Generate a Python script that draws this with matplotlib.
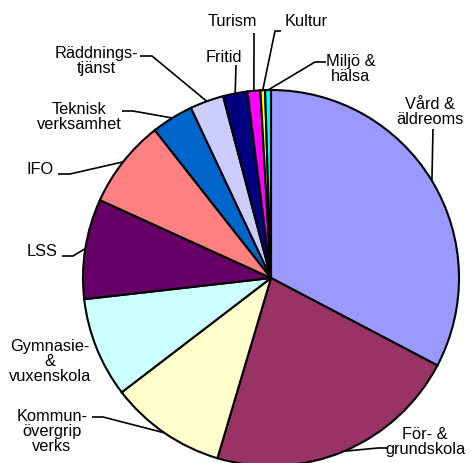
import numpy as np
import matplotlib
matplotlib.use("Agg")
import matplotlib.pyplot as plt

labels = ["Vård &\näldreoms", "För- &\ngrundskola", "Kommun-\növergrip\nverks",
          "Gymnasie-\n&\nvuxenskola", "LSS", "IFO", "Teknisk\nverksamhet",
          "Räddnings-\ntjänst", "Fritid", "Turism", "Kultur", "Miljö &\nhälsa"]
values = [32.7, 21.9, 10.0, 8.6, 8.6, 7.6, 3.6, 2.9, 2.1, 1.1, 0.4, 0.5]
colors = ["#9999FF", "#993366", "#FFFFCC", "#CCFFFF", "#660066", "#FF8080",
          "#0066CC", "#CCCCFF", "#000080", "#FF00FF", "#FFFF00", "#00FFFF"]

W, H = 471, 464
CX, CY, R = 271, 279, 188

def P(x, y):
    return ((x - CX) / R, (CY - y) / R)

# label layout: text center (px), leader path points after pie anchor (px)
layout = [
    ((430, 112), [(433, 130)]),
    ((425, 442), [(378, 449), (388, 449)]),
    ((52, 432), [(103, 418), (92, 418)]),
    ((50, 362), None),
    ((42, 252), [(73, 257), (62, 257)]),
    ((40, 170), [(70, 175), (58, 175)]),
    ((79, 117), [(133, 112), (122, 112)]),
    ((96, 61), [(152, 57), (140, 57)]),
    ((224, 57), [(236, 66)]),
    ((232, 21), [(254, 34)]),
    ((306, 21), [(275, 32), (281, 32)]),
    ((351, 69), [(315, 63), (326, 63)]),
]

fig = plt.figure(figsize=(W / 100, H / 100), dpi=100)
ax = fig.add_axes([0, 0, 1, 1])
wedges, _ = ax.pie(values, colors=colors, startangle=90, counterclock=False,
                   radius=1, center=(0, 0),
                   wedgeprops=dict(edgecolor="black", linewidth=1.5))
ax.set_xlim((0 - CX) / R, (W - CX) / R)
ax.set_ylim((CY - H) / R, CY / R)
ax.set_aspect("equal")
ax.axis("off")

for w, lab, (tpos, path) in zip(wedges, labels, layout):
    mid = np.deg2rad((w.theta1 + w.theta2) / 2)
    anchor = (np.cos(mid), np.sin(mid))
    if path is not None:
        pts = [anchor] + [P(*p) for p in path]
        xs, ys = zip(*pts)
        ax.plot(xs, ys, color="black", lw=1.2, solid_capstyle="butt")
    tx, ty = P(*tpos)
    ax.text(tx, ty, lab, ha="center", va="center", fontsize=11.8,
            family="Liberation Sans", linespacing=1.0, multialignment="center")

fig.savefig("out.png", dpi=100)
